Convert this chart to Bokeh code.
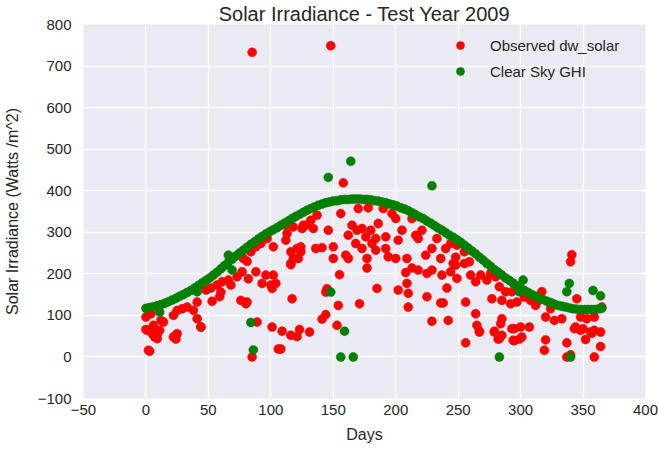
from bokeh.plotting import figure
from bokeh.models import FixedTicker, ColumnDataSource, Legend, LegendItem
from bokeh.embed import file_html
from bokeh.resources import INLINE

# Observed dw_solar (red) : day, value
obs_days = [0, 2, 7, 9, 11, 24, 25, 44, 85, 106, 108, 109, 116, 121, 123, 131,
            256, 267, 279, 282, 285, 295, 295, 299, 301, 320, 319, 337, 337, 340,
            344, 350, 352, 357, 359, 359, 364, 364,
            85, 148, 158, 341, 340,
            81, 77, 73, 66, 61, 57, 52, 48, 68, 60, 53, 59, 41, 38, 33, 29, 25, 22,
            41, 44, 22, 24, 12, 14, 6, 1, 5, 9, 0, 4, 3, 76, 81, 89, 88, 96, 93,
            101, 102, 104, 116, 117, 101,
            118, 112, 113, 112, 97, 102, 92, 88, 84, 78, 116, 121, 118, 122,
            126, 124, 116, 100, 80, 82,
            156, 170, 178, 190, 197, 200, 213, 132, 128, 137, 134, 125, 146, 165,
            169, 173, 180, 186, 162, 176, 184, 192, 205, 202, 216, 221, 218, 168,
            173, 184, 192, 181, 124, 136, 141, 150, 160, 162, 177, 194, 200, 209,
            224, 229, 236, 233, 240, 244, 150,
            177, 208, 213, 218, 225, 229, 237, 244, 246, 155, 185, 202, 209, 210,
            225, 236, 238, 241, 144, 145, 154, 171, 210, 144, 141, 153, 229, 242,
            249, 255, 248,
            248, 255, 259, 249, 260, 264, 268, 273, 276, 280, 283, 288, 277, 285,
            292, 297, 293, 303, 308, 312, 313, 317, 324, 327, 320, 333, 345, 348,
            353, 359, 365, 256, 264, 265, 267, 285, 284, 279, 283, 293, 300, 307,
            294, 343, 348, 356]
obs_vals = [66, 16, 48, 54, 64, 43, 56, 72, 0, 19, 19, 62, 52, 49, 66, 60,
            34, 62, 62, 43, 52, 68, 39, 43, 48, 41, 16, 34, 0, 5,
            72, 68, 42, 57, 64, 0, 60, 25,
            733, 749, 419, 246, 229,
            230, 205, 193, 185, 181, 173, 166, 161, 173, 156, 134, 145, 132, 112, 120, 116, 112, 100,
            92, 72, 48, 52, 88, 84, 76, 64, 56, 44, 96, 104, 14, 136, 132, 84, 205, 197, 177,
            165, 197, 177, 222, 140, 72,
            313, 317, 297, 281, 285, 265, 273, 265, 253, 237, 253, 261, 237, 237,
            317, 253, 225, 173, 128, 188,
            345, 357, 359, 357, 345, 333, 333, 329, 317, 341, 309, 309, 305, 317,
            305, 309, 305, 321, 293, 289, 285, 289, 305, 281, 293, 305, 285, 273,
            261, 257, 261, 273, 265, 261, 263, 265, 245, 237, 237, 241, 237, 237,
            245, 261, 237, 285, 261, 273, 237,
            214, 203, 214, 209, 201, 209, 197, 205, 225, 198, 165, 161, 177, 153,
            145, 130, 130, 166, 156, 164, 124, 128, 120, 102, 91, 76, 86, 88,
            269, 253, 240,
            221, 225, 229, 189, 197, 181, 197, 185, 201, 193, 169, 157, 140, 136,
            128, 132, 157, 144, 136, 124, 132, 157, 116, 88, 96, 92, 140, 96,
            92, 96, 120, 132, 104, 76, 60, 92, 80, 60, 44, 68, 72, 72,
            40, 68, 64, 60]

# Clear Sky GHI (green) : day, value
ghi_days = [0, 3, 6, 9, 12, 15, 18, 21, 24, 27, 30, 33, 36, 39, 42, 45, 48, 51, 54, 57,
            60, 63, 66, 69, 72, 75, 78, 81, 84, 87, 90, 93, 96, 99, 102, 105, 108, 111,
            114, 117, 120, 123, 126, 129, 132, 135, 138, 141, 144, 147, 150, 153, 156,
            159, 162, 165, 168, 171, 174, 177, 180, 183, 186, 189, 192, 195, 198, 201,
            204, 207, 210, 213, 216, 219, 222, 225, 228, 231, 234, 237, 240, 243, 246,
            249, 252, 255, 258, 261, 264, 267, 270, 273, 276, 279, 282, 285, 288, 291,
            294, 297, 300, 303, 306, 309, 312, 315, 318, 321, 324, 327, 330, 333, 336,
            339, 342, 345, 348, 351, 354, 357, 360, 363, 365,
            11, 41, 66, 69, 84, 86, 146, 148, 156, 159, 164, 166, 229, 283, 299, 302,
            339, 337, 358, 364, 340]
ghi_vals = [117, 119, 121, 123, 126, 129, 133, 137, 141, 146, 150, 155, 160, 166, 172,
            178, 184, 190, 197, 204, 212, 220, 228, 235, 243, 250, 257, 264, 271, 277,
            284, 290, 296, 301, 306, 311, 317, 322, 327, 333, 338, 343, 348, 353, 357,
            361, 365, 368, 371, 373, 375, 376, 378, 379, 379, 380, 380, 380, 379, 379,
            378, 376, 375, 373, 371, 368, 366, 363, 359, 356, 352, 347, 342, 337, 333,
            327, 322, 316, 310, 305, 299, 293, 288, 282, 276, 269, 262, 255, 248, 240,
            233, 225, 218, 210, 204, 197, 190, 184, 178, 171, 165, 160, 155, 150, 146,
            142, 138, 134, 131, 127, 124, 122, 120, 118, 116, 115, 114, 114, 114, 114,
            114, 116, 117,
            108, 157, 245, 209, 83, 17, 432, 156, 0, 62, 471, 0, 412, 0, 157, 185,
            177, 157, 160, 147, 0]

x_ticks = [-50, 0, 50, 100, 150, 200, 250, 300, 350, 400]
y_ticks = [-100, 0, 100, 200, 300, 400, 500, 600, 700, 800]

FONT = "Liberation Sans"
TXT = "#262626"

p = figure(frame_width=562, frame_height=374, output_backend="svg", toolbar_location=None,
           x_range=(-50, 400), y_range=(-100, 800),
           title="Solar Irradiance - Test Year 2009",
           min_border_left=83, min_border_right=13, min_border_top=24,
           min_border_bottom=46)

p.title.align = "center"
p.title.text_font = FONT
p.title.text_font_size = "20px"
p.title.text_font_style = "normal"
p.title.text_color = TXT
p.title.standoff = 0
p.title.text_line_height = 1.0

p.background_fill_color = "#EAEAF2"
p.border_fill_color = "white"
p.outline_line_color = None

for ax in (p.xaxis[0], p.yaxis[0]):
    ax.axis_line_color = None
    ax.major_tick_line_color = None
    ax.minor_tick_line_color = None
    ax.major_tick_out = 0
    ax.major_tick_in = 0
    ax.minor_tick_out = 0
    ax.minor_tick_in = 0
    ax.major_label_text_font = FONT
    ax.major_label_text_font_size = "15px"
    ax.major_label_text_color = TXT
    ax.axis_label_text_font = FONT
    ax.axis_label_text_font_size = "16px"
    ax.axis_label_text_font_style = "normal"
    ax.axis_label_text_color = TXT

p.xaxis.ticker = FixedTicker(ticks=x_ticks)
p.yaxis.ticker = FixedTicker(ticks=y_ticks)
p.xaxis.major_label_overrides = {t: str(t).replace("-", "\u2212") for t in x_ticks}
p.yaxis.major_label_overrides = {t: str(t).replace("-", "\u2212") for t in y_ticks}
p.xaxis.axis_label = "Days"
p.yaxis.axis_label = "Solar Irradiance (Watts /m^2)"
p.xaxis.major_label_standoff = 6
p.xaxis.axis_label_standoff = 8
p.yaxis.major_label_standoff = 12
p.yaxis.axis_label_standoff = 14

p.xgrid.grid_line_color = "white"
p.ygrid.grid_line_color = "white"
p.xgrid.grid_line_width = 1.3
p.ygrid.grid_line_width = 1.3

obs_src = ColumnDataSource(dict(x=obs_days, y=obs_vals))
ghi_src = ColumnDataSource(dict(x=ghi_days, y=ghi_vals))

r1 = p.scatter("x", "y", source=obs_src, size=9, fill_color="#FF0000",
               line_color="#FF0000", line_width=0.5)
r2 = p.scatter("x", "y", source=ghi_src, size=9, fill_color="#008000",
               line_color="#008000", line_width=0.5)

legend = Legend(items=[LegendItem(label="Observed dw_solar", renderers=[r1]),
                       LegendItem(label="Clear Sky GHI", renderers=[r2])],
                location=(358, 308))
legend.background_fill_alpha = 0
legend.border_line_alpha = 0
legend.label_text_font = FONT
legend.label_text_font_size = "15px"
legend.label_text_color = TXT
legend.glyph_width = 20
legend.label_standoff = 20
legend.spacing = 6
legend.margin = 0
legend.padding = 9
p.add_layout(legend)

open("out.html", "w").write(file_html(p, INLINE))
